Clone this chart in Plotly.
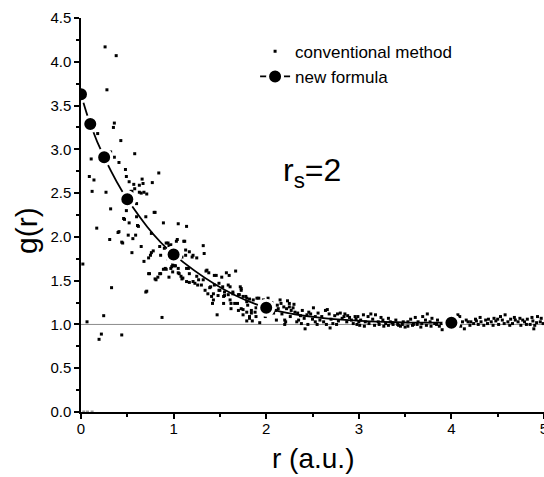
import plotly.graph_objects as go

# "new formula" curve
r_new = [0.0, 0.1, 0.25, 0.5, 1.0, 2.0, 4.0]
g_new = [3.63, 3.29, 2.91, 2.43, 1.80, 1.19, 1.02]

# "conventional method" scatter, (r, g) pairs
conv_near = [
    (0.26, 4.17), (0.38, 4.07), (0.28, 3.68), (0.36, 3.30), (0.35, 3.25), (0.18, 3.18), (0.43, 3.10),
    (0.11, 2.89), (0.32, 2.97), (0.36, 2.91), (0.41, 2.85), (0.58, 2.95),
    (0.09, 2.69), (0.14, 2.65), (0.12, 2.52), (0.27, 2.51),
    (0.48, 2.77), (0.49, 2.69), (0.52, 2.63), (0.57, 2.60), (0.66, 2.66), (0.67, 2.61), (0.77, 2.62),
    (0.84, 2.73), (0.63, 2.59), (0.58, 2.55), (0.55, 2.52), (0.63, 2.51), (0.65, 2.50), (0.71, 2.49),
    (0.32, 2.32), (0.49, 2.30), (0.60, 2.38), (0.46, 2.21), (0.52, 2.16), (0.79, 2.28), (0.17, 2.10),
    (0.60, 2.23), (0.61, 2.13), (0.89, 2.16), (1.05, 2.15), (1.14, 2.12), (0.41, 2.06), (0.51, 2.02),
    (0.56, 1.98), (0.31, 1.97),
    (0.02, 1.69), (0.065, 1.03), (0.245, 1.10), (0.195, 0.83), (0.22, 0.89), (0.33, 1.42), (0.44, 0.88),
    (0.875, 1.08),
    (0.45, 1.93), (0.59, 2.02), (0.55, 1.82), (0.65, 1.89), (0.68, 1.72), (0.71, 1.38), (0.73, 1.58),
    (0.75, 1.79), (0.78, 1.84), (0.80, 1.52), (0.83, 1.54), (0.86, 1.58), (0.89, 1.63), (0.91, 1.64),
    (0.95, 1.54), (0.97, 1.64), (0.99, 1.68), (1.02, 1.67), (1.05, 1.59), (1.08, 1.55), (1.09, 1.52),
    (0.92, 1.93), (0.95, 1.90), (1.03, 1.95), (1.11, 1.95), (1.17, 1.83), (1.21, 1.79), (1.25, 1.76),
    (1.13, 1.79), (1.09, 1.77), (1.16, 1.64), (1.17, 1.58), (1.21, 1.49), (1.23, 1.47), (1.25, 1.55),
    (1.27, 1.51), (1.30, 1.45), (1.32, 1.90), (1.33, 1.81), (1.35, 1.61), (1.38, 1.59), (1.40, 1.43),
    (1.43, 1.35), (1.43, 1.28), (1.46, 1.56), (1.47, 1.11), (1.50, 1.39), (1.52, 1.54), (1.54, 1.32),
    (1.57, 1.59), (1.59, 1.45), (1.61, 1.28), (1.62, 1.18), (1.64, 1.37), (1.67, 1.61), (1.69, 1.24),
    (1.71, 1.34), (1.73, 1.41), (1.75, 1.17), (1.78, 1.32), (1.80, 1.22), (1.82, 1.09), (1.84, 1.13),
    (1.86, 1.28), (1.89, 1.19), (1.90, 1.30), (1.93, 1.02), (1.95, 1.22), (1.97, 1.28), (2.02, 1.30),
    (1.20, 1.77), (0.98, 1.66), (1.05, 1.64), (1.14, 1.64), (1.36, 1.62), (1.44, 1.56), (1.60, 1.56),
    (1.32, 1.51), (1.26, 1.45), (1.17, 1.48), (1.39, 1.42), (1.44, 1.45), (1.49, 1.47), (1.53, 1.43),
    (1.34, 1.39), (1.37, 1.35), (1.49, 1.39), (1.55, 1.37), (1.61, 1.43), (1.72, 1.43), (1.73, 1.39),
    (1.41, 1.32), (1.48, 1.33), (1.55, 1.33), (1.59, 1.34), (1.64, 1.35), (1.70, 1.34), (1.75, 1.32),
    (1.79, 1.30), (1.82, 1.29), (1.42, 1.24), (1.54, 1.24), (1.62, 1.24), (1.66, 1.24), (1.79, 1.26),
    (1.92, 1.30), (1.70, 1.16), (1.73, 1.18), (1.79, 1.14), (1.84, 1.16), (1.88, 1.14), (1.75, 1.11),
    (1.82, 1.07), (1.89, 1.09), (1.85, 1.04), (1.79, 1.04),
    (0.54, 2.52), (0.68, 2.51), (0.70, 2.23), (0.80, 2.28), (0.47, 2.20), (0.62, 2.12), (0.40, 2.05),
    (0.76, 2.04), (1.04, 1.97), (0.44, 1.94), (0.73, 1.76), (0.74, 1.58), (0.76, 1.82), (0.85, 1.89),
    (0.90, 1.87), (0.86, 1.79), (0.94, 1.93), (0.97, 1.91), (0.94, 1.75), (1.06, 1.83), (1.12, 1.95),
    (1.13, 1.85), (0.92, 1.63), (1.01, 1.67), (0.85, 1.58), (0.81, 1.51), (0.99, 1.60), (1.06, 1.58),
    (1.10, 1.53), (1.14, 1.49), (0.70, 1.37),
    (0.03, 0.0), (0.07, 0.0), (0.12, 0.0),
]

conv_mid = [
    (2.16, 1.24), (2.23, 1.27), (2.25, 1.24), (2.30, 1.23), (2.22, 1.18), (2.27, 1.16), (2.31, 1.14),
    (2.10, 1.16), (2.13, 1.18), (2.08, 1.13), (2.17, 1.12), (2.11, 1.05), (1.99, 1.09), (2.20, 1.05),
    (2.21, 1.03), (2.34, 1.13), (2.37, 1.10), (2.39, 1.16), (2.33, 1.03), (2.35, 1.05), (2.44, 1.11),
    (2.46, 1.14), (2.51, 1.19), (2.48, 1.12), (2.53, 1.09), (2.42, 0.95), (2.45, 1.00), (2.56, 1.13),
    (2.60, 1.09), (2.62, 1.03), (2.64, 1.16), (2.66, 1.17), (2.68, 1.12), (2.69, 0.96), (2.72, 1.01),
    (2.74, 1.10), (2.77, 1.12), (2.80, 1.13), (2.82, 1.07), (2.84, 1.09), (2.85, 1.12), (2.87, 1.03),
    (2.90, 1.08), (2.92, 1.05), (2.94, 1.01), (2.96, 1.09), (3.00, 1.03), (2.53, 1.03), (2.55, 1.00),
    (2.65, 1.00), (2.76, 1.00), (2.20, 1.00), (2.38, 1.01), (2.25, 1.20),
    (2.04, 1.20), (2.06, 1.25), (2.12, 1.22), (2.15, 1.28), (2.19, 1.20), (2.26, 1.09), (2.29, 1.19),
    (2.41, 1.07), (2.50, 1.06), (2.58, 1.05), (2.70, 1.06), (2.78, 1.04), (2.88, 1.10), (2.97, 1.06),
    (2.99, 1.09), (3.02, 1.05), (3.05, 1.11), (3.07, 1.03), (3.10, 1.09), (3.13, 1.12), (3.15, 1.06),
    (3.18, 1.11), (3.21, 1.03), (3.24, 1.08), (3.26, 1.05), (3.29, 1.01), (3.32, 1.07), (3.34, 1.03),
    (3.37, 1.00), (3.40, 1.05), (3.42, 1.00), (3.45, 0.98), (3.48, 1.03), (3.50, 0.97), (3.53, 1.03),
    (3.56, 1.06), (3.59, 1.00), (3.61, 1.08), (3.64, 1.03), (3.67, 0.97), (3.69, 1.09), (3.72, 1.05),
    (3.74, 1.12), (3.77, 1.03), (3.79, 1.07), (3.82, 1.01), (3.85, 1.05), (3.87, 0.98), (3.90, 0.94),
    (3.93, 1.03), (3.96, 1.06),
    (2.98, 1.00), (3.01, 0.99), (3.06, 0.98), (3.11, 1.01), (3.17, 0.99), (3.22, 1.00), (3.27, 0.98),
    (3.32, 0.99), (3.36, 1.02), (3.43, 0.99), (3.47, 1.00), (3.53, 0.98), (3.58, 0.99), (3.63, 1.00),
    (3.68, 1.01), (3.73, 0.99), (3.78, 0.98), (3.84, 1.00), (3.89, 1.01), (3.95, 1.02),
]

conv_far = [
    (4.00, 1.03), (4.07, 1.11), (4.09, 1.09), (4.12, 1.03), (4.14, 0.95), (4.16, 1.05), (4.18, 1.03),
    (4.21, 1.03), (4.24, 1.01), (4.27, 1.04), (4.29, 1.00), (4.32, 1.03), (4.35, 0.99), (4.37, 1.05),
    (4.40, 1.06), (4.43, 1.03), (4.46, 1.07), (4.48, 1.04), (4.51, 1.00), (4.53, 1.09), (4.55, 1.05),
    (4.58, 1.11), (4.61, 1.03), (4.64, 1.06), (4.66, 1.01), (4.69, 1.05), (4.72, 1.03), (4.75, 0.99),
    (4.77, 1.05), (4.79, 1.03), (4.82, 1.06), (4.85, 1.00), (4.88, 1.04), (4.89, 0.95), (4.90, 0.99),
    (4.93, 1.09), (4.96, 1.03), (4.99, 1.01),
    (4.05, 1.00), (4.10, 0.98), (4.20, 0.99), (4.26, 1.06), (4.31, 1.08), (4.39, 1.01), (4.45, 0.99),
    (4.50, 1.06), (4.57, 1.01), (4.63, 0.99), (4.68, 1.08), (4.74, 1.07), (4.81, 1.00), (4.87, 1.08),
    (4.92, 1.02), (4.97, 1.07),
]

conv_all = conv_near + conv_mid + conv_far
r_conv = [p[0] for p in conv_all]
g_conv = [p[1] for p in conv_all]
# points lying on the axis look faint grey in the original
conv_colors = ["#9a9a9a" if g == 0 else "black" for g in g_conv]

FONT = "Liberation Sans, Arial, sans-serif"

fig = go.Figure()
fig.add_trace(go.Scatter(
    x=r_conv, y=g_conv, mode="markers", name="conventional method",
    marker=dict(symbol="square", size=3, color=conv_colors),
))
fig.add_trace(go.Scatter(
    x=r_new, y=g_new, mode="lines+markers", name="new formula",
    line=dict(color="black", width=1.8, shape="spline"),
    marker=dict(symbol="circle", size=15, color="black", line=dict(color="white", width=3)),
))

fig.add_shape(type="line", xref="paper", yref="y", x0=0, x1=1, y0=1, y1=1,
              line=dict(color="#8c8c8c", width=1), layer="below")

fig.add_annotation(x=2.49, y=2.74, xref="x", yref="y", text="r<sub>s</sub>=2",
                   showarrow=False, font=dict(size=32, color="black", family=FONT))
fig.add_annotation(x=(26 - 81) / 463, y=(412 - 231) / 394, xref="paper", yref="paper", text="g(r)",
                   xanchor="center", yanchor="middle",
                   textangle=-90, showarrow=False, font=dict(size=30, color="black", family=FONT))
fig.add_annotation(x=0.5, y=-(458 - 412) / 394, xref="paper", yref="paper", yanchor="middle",
                   text="r (a.u.)",
                   showarrow=False, font=dict(size=28, color="black", family=FONT))

axis_common = dict(
    showgrid=False, zeroline=False, showline=True, linecolor="black", linewidth=1.5,
    ticks="outside", ticklen=5, tickwidth=1.5, tickcolor="black", automargin=False,
    tickfont=dict(size=15, color="black", family=FONT),
)
fig.update_xaxes(range=[0, 5], dtick=1, tick0=0, ticklabeloverflow="allow", ticklabelstandoff=-3,
                 minor=dict(dtick=0.5, ticks="outside", ticklen=3, tickcolor="black", tickwidth=1.5),
                 **axis_common)
fig.update_yaxes(range=[0, 4.5], dtick=0.5, tick0=0, tickformat=".1f",
                 minor=dict(dtick=0.25, ticks="outside", ticklen=3, tickcolor="black", tickwidth=1.5),
                 **axis_common)

fig.update_layout(
    width=544, height=477,
    margin=dict(l=81, r=0, t=18, b=65),
    plot_bgcolor="white", paper_bgcolor="white",
    font=dict(family=FONT, color="black"),
    showlegend=True,
    legend=dict(x=0.376, y=0.96, xanchor="left", yanchor="top", bgcolor="rgba(0,0,0,0)",
                font=dict(size=17, color="black", family=FONT), tracegroupgap=0),
)

fig.write_html("out.html", config={"displayModeBar": False},
               post_script="document.body.style.margin='0';document.body.style.padding='0';")
